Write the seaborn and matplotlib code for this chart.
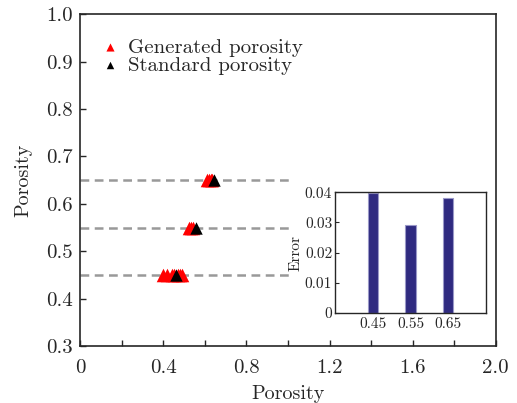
import pandas as pd
import matplotlib.pyplot as plt
import seaborn as sns

# ---- data ----
levels = [0.45, 0.55, 0.65]

gen_x = [0.40, 0.42, 0.44, 0.45, 0.47, 0.48, 0.49,
         0.525, 0.535, 0.545,
         0.61, 0.62, 0.63, 0.635]
gen_y = [0.45, 0.45, 0.45, 0.45, 0.45, 0.45, 0.45,
         0.55, 0.55, 0.55,
         0.65, 0.65, 0.65, 0.65]

std_x = [0.46, 0.556, 0.645]
std_y = [0.45, 0.55, 0.65]

err_labels = ['0.45', '0.55', '0.65']
err_values = [0.0398, 0.029, 0.038]

gen = pd.DataFrame({'x': gen_x, 'y': gen_y})
std = pd.DataFrame({'x': std_x, 'y': std_y})
err = pd.DataFrame({'level': err_labels, 'error': err_values})

sns.set_style('ticks')
plt.rcParams['font.family'] = ['cmr10', 'DejaVu Serif']
plt.rcParams['axes.formatter.use_mathtext'] = True
plt.rcParams['axes.unicode_minus'] = False

fig = plt.figure(figsize=(5.17, 4.03), dpi=100)
ax = fig.add_axes([0.155, 0.141, 0.804, 0.824])

# dashed reference lines
for lv in levels:
    ax.plot([0, 1.01], [lv, lv], color='#999999', lw=1.8, ls=(0, (3.5, 2.2)), zorder=1)

sns.scatterplot(data=gen, x='x', y='y', ax=ax, marker='^', color='#ff0000',
                s=95, linewidth=0, label='Generated porosity', zorder=3)
sns.scatterplot(data=std, x='x', y='y', ax=ax, marker='^', color='black',
                s=80, linewidth=0, label='Standard porosity', zorder=4)

ax.set_xlim(0, 2.0)
ax.set_ylim(0.3, 1.0)
xt = [0, 0.2, 0.4, 0.6, 0.8, 1.0, 1.2, 1.4, 1.6, 1.8, 2.0]
ax.set_xticks(xt)
ax.set_xticklabels(['0', '', '0.4', '', '0.8', '', '1.2', '', '1.6', '', '2.0'])
yt = [0.3, 0.4, 0.5, 0.6, 0.7, 0.8, 0.9, 1.0]
ax.set_yticks(yt)
ax.set_yticklabels(['0.3', '0.4', '0.5', '0.6', '0.7', '0.8', '0.9', '1.0'])
ax.tick_params(direction='in', length=4, width=1, labelsize=15)
ax.tick_params(axis='x', pad=9)
ax.tick_params(axis='y', pad=5)
ax.set_xlabel('Porosity', fontsize=14.5, labelpad=6)
ax.set_ylabel('Porosity', fontsize=14.5, labelpad=10)
for sp in ax.spines.values():
    sp.set_linewidth(1.2)

leg = ax.legend(loc='upper left', bbox_to_anchor=(0.026, 0.952), frameon=False,
                fontsize=15, handletextpad=0.4, handlelength=1.0, borderaxespad=0,
                labelspacing=-0.05, markerscale=0.6)

# ---- inset: error bars ----
ins = fig.add_axes([0.648, 0.223, 0.292, 0.300])
sns.barplot(data=err, x='level', y='error', ax=ins, color='#2f2a80',
            width=0.27, edgecolor='#9a98c8', linewidth=0.8, saturation=1)
ins.set_xlim(-1, 3)
ins.set_ylim(0, 0.04)
ins.set_yticks([0, 0.01, 0.02, 0.03, 0.04])
ins.set_yticklabels(['0', '0.01', '0.02', '0.03', '0.04'])
ins.set_xlabel('')
ins.set_ylabel('Error', fontsize=11, labelpad=2)
ins.tick_params(axis='y', direction='in', length=3, labelsize=11, pad=2)
ins.tick_params(axis='x', length=0, labelsize=11, pad=3)
for sp in ins.spines.values():
    sp.set_linewidth(1.0)

fig.savefig('out.png', dpi=100)
